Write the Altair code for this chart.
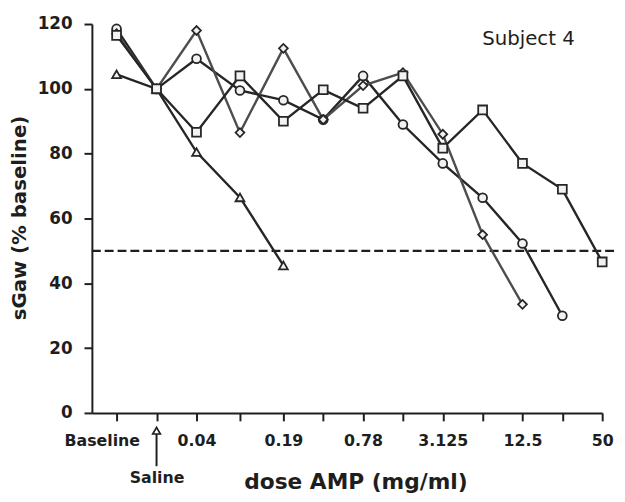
import json
import altair as alt
import pandas as pd

# ---- data ----
categories = ["Baseline", "Saline", "0.04", "0.08", "0.19", "0.39", "0.78",
              "1.56", "3.125", "6.25", "12.5", "25", "50"]
shown_labels = ["Baseline", "Saline", "0.04", "", "0.19", "", "0.78",
                "", "3.125", "", "12.5", "", "50"]

triangle_vals = [104.5, 100, 80.5, 66.5, 45.5]
circle_vals = [118.5, 100, 109.3, 99.5, 96.5, 90.5, 104, 89, 77, 66.4, 52.3, 30]
diamond_vals = [117, 100, 118, 86.5, 112.5, 90.5, 101, 105, 86, 55, 33.5]
square_vals = [116.5, 100, 86.6, 104, 90, 99.7, 94, 104, 81.7, 93.5, 77, 69, 46.6]

series_names = ["triangle", "circle", "diamond", "square"]
series_shapes = ["triangle-up", "circle", "diamond", "square"]
series_colors = ["#262626", "#262626", "#4d4d4d", "#262626"]

threshold = [50]
y_ticks = [0, 20, 40, 60, 80, 100, 120]

rows = []
for name, vals in zip(series_names, [triangle_vals, circle_vals, diamond_vals, square_vals]):
    for i, v in enumerate(vals):
        rows.append({"series": name, "idx": i, "dose": categories[i], "sgaw": v})
df = pd.DataFrame(rows)

W, H = 517, 394
FONT = "DejaVu Sans"
INK = "#1e1e1e"

xscale = alt.Scale(domain=[-0.6, 0, 2, 4, 12], range=[0, 25, 106, 194, W], nice=False, zero=False)
yscale = alt.Scale(domain=[0, 120], nice=False, zero=True)

label_expr = json.dumps(shown_labels) + "[datum.value]"

x_axis = alt.Axis(
    values=list(range(len(categories))),
    labelExpr=label_expr,
    labelFlush=False,
    labelOverlap=False,
    labelBound=False,
    labelFont=FONT, labelFontSize=16, labelFontWeight="bold", labelColor=INK,
    labelPadding={"condition": {"test": "datum.value == 1", "value": 49}, "value": 12},
    labelOffset={"condition": {"test": "datum.value == 0", "value": -15}, "value": 0},
    tickSize=8, tickWidth=2, tickColor=INK,
    domainWidth=2, domainColor=INK,
    grid=False,
    title="dose AMP (mg/ml)",
    titleFont=FONT, titleFontSize=22, titleFontWeight="bold", titleColor=INK,
    titleX=267, titleY=77, titleAlign="center", titleBaseline="alphabetic",
)

y_axis = alt.Axis(
    values=y_ticks,
    labelFont=FONT, labelFontSize=17, labelFontWeight="bold", labelColor=INK,
    labelPadding=12,
    tickSize=8, tickWidth=2, tickColor=INK,
    domainWidth=2, domainColor=INK,
    grid=False,
    title="sGaw (% baseline)",
    titleFont=FONT, titleFontSize=20, titleFontWeight="bold", titleColor=INK,
    titleX=-67, titleY=196, titleAlign="center", titleBaseline="alphabetic", titleAngle=270,
)

base = alt.Chart(df)

enc_x = alt.X("idx:Q", scale=xscale, axis=x_axis)
enc_y = alt.Y("sgaw:Q", scale=yscale, axis=y_axis)

color = alt.Color("series:N", scale=alt.Scale(domain=series_names, range=series_colors), legend=None)
shape = alt.Shape("series:N", scale=alt.Scale(domain=series_names, range=series_shapes), legend=None)

lines = base.mark_line(strokeWidth=2.4).encode(
    x=enc_x, y=enc_y, color=color, detail="series:N"
)
points = base.mark_point(filled=False, size=80, strokeWidth=1.8, fill="#f2f2f2", fillOpacity=1).encode(
    x="idx:Q", y="sgaw:Q", shape=shape,
    color=alt.value("#262626"),
)

thr = alt.Chart(pd.DataFrame({"v": threshold})).mark_rule(
    color=INK, strokeWidth=2.5, strokeDash=[9, 4]
).encode(y="v:Q", x=alt.value(0), x2=alt.value(W + 14))

subject = alt.Chart(pd.DataFrame({"t": ["Subject 4"], "x": [10.15], "y": [113.6]})).mark_text(
    font=FONT, fontSize=20, color=INK, align="center", baseline="alphabetic"
).encode(x="x:Q", y="y:Q", text="t:N")

arrow_df = pd.DataFrame({"x": [1]})
arrow_shaft = alt.Chart(arrow_df).mark_rule(color=INK, strokeWidth=2).encode(
    x="x:Q", y=alt.value(413), y2=alt.value(448)
)
arrow_head = alt.Chart(arrow_df).mark_point(
    shape="triangle-up", size=60, filled=False, fill="white", fillOpacity=1,
    stroke=INK, strokeWidth=1.7
).encode(x="x:Q", y=alt.value(412))

chart = alt.layer(thr, lines, points, subject, arrow_shaft, arrow_head).properties(
    width=W, height=H,
    autosize=alt.AutoSizeParams(type="none"),
    padding={"left": 85, "top": 13, "right": 15, "bottom": 87},
    background="white",
).configure_view(strokeWidth=0)

chart.save("out.html", embed_options={"renderer": "svg", "actions": False})
